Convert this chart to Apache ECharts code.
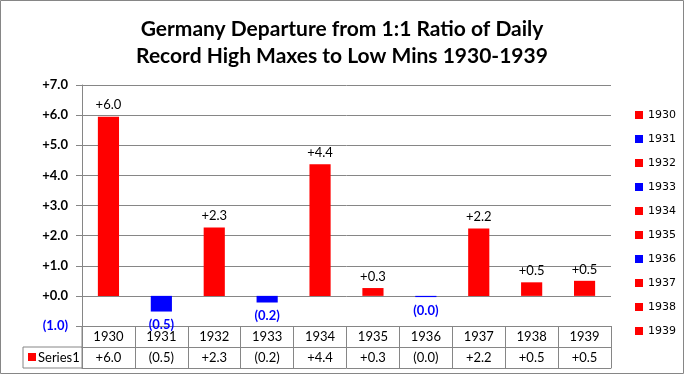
<!DOCTYPE html>
<html>
<head>
<meta charset="utf-8">
<script src="https://cdn.jsdelivr.net/npm/echarts@6/dist/echarts.min.js"></script>
<style>
  html, body { margin: 0; padding: 0; background: #fff; }
  #chart { width: 684px; height: 375px; }
</style>
</head>
<body>
<div id="chart"></div>
<script>
var years = ['1930', '1931', '1932', '1933', '1934', '1935', '1936', '1937', '1938', '1939'];
var values = [5.95, -0.52, 2.27, -0.22, 4.37, 0.26, -0.04, 2.24, 0.45, 0.5];
var valueLabels = ['+6.0', '(0.5)', '+2.3', '(0.2)', '+4.4', '+0.3', '(0.0)', '+2.2', '+0.5', '+0.5'];
var yTicks = { min: -1, max: 7, interval: 1 };

var RED = '#ff0000', BLUE = '#0000ff', LINE = '#868686';
var FONT = 'Lato';

var chart = echarts.init(document.getElementById('chart'));

// one series per year so the legend lists every year, stacked into one slot
var series = years.map(function(y, i) {
  var data = years.map(function(_, j) { return j === i ? values[i] : '-'; });
  var neg = values[i] < 0;
  return {
    name: y,
    type: 'bar',
    stack: 'all',
    barWidth: '40%',
    itemStyle: { color: neg ? BLUE : RED },
    label: {
      show: true,
      position: neg ? 'bottom' : 'top',
      distance: neg ? 7 : 5,
      formatter: function() { return valueLabels[i]; },
      color: neg ? BLUE : '#000',
      fontFamily: FONT,
      fontSize: 13,
      fontWeight: neg ? 'bold' : 'normal'
    },
    data: data
  };
});

var option = {
  animation: false,
  title: {
    text: 'Germany Departure from 1:1 Ratio of Daily\nRecord High Maxes to Low Mins 1930-1939',
    left: 'center',
    top: 11,
    textStyle: { fontFamily: FONT, fontSize: 21, fontWeight: 'bold', lineHeight: 27, color: '#000' }
  },
  legend: {
    orient: 'vertical',
    left: 630,
    top: 104,
    itemWidth: 8,
    itemHeight: 8,
    itemGap: 12,
    icon: 'rect',
    textStyle: { fontFamily: 'DejaVu Sans', fontSize: 11, color: '#000', lineHeight: 12 },
    data: years
  },
  grid: { left: 82, right: 73, top: 85, bottom: 49 },
  xAxis: [
    {
      type: 'category',
      data: years,
      position: 'bottom',
      axisLine: { onZero: false, lineStyle: { color: LINE } },
      axisTick: { show: true, length: 42, lineStyle: { color: LINE } },
      axisLabel: { margin: 4, fontFamily: FONT, fontSize: 13, color: '#000' }
    },
    {
      type: 'category',
      data: valueLabels,
      position: 'bottom',
      offset: 21,
      axisLine: { onZero: false, lineStyle: { color: LINE } },
      axisTick: { show: false },
      axisLabel: { margin: 4, fontFamily: FONT, fontSize: 13, color: '#000' }
    },
    {
      type: 'category',
      data: years,
      position: 'bottom',
      offset: 42,
      axisLine: { onZero: false, lineStyle: { color: LINE } },
      axisTick: { show: false },
      axisLabel: { show: false }
    }
  ],
  yAxis: {
    type: 'value',
    min: yTicks.min,
    max: yTicks.max,
    interval: yTicks.interval,
    axisLine: { show: true, lineStyle: { color: LINE } },
    axisTick: { show: true, length: 6, lineStyle: { color: LINE } },
    splitLine: { show: true, lineStyle: { color: LINE, width: 1 } },
    axisLabel: {
      margin: 14,
      fontFamily: FONT,
      fontSize: 13,
      fontWeight: 'bold',
      color: function(v) { return v < 0 ? BLUE : '#000'; },
      formatter: function(v) {
        if (v < 0) return '(' + (-v).toFixed(1) + ')';
        return '+' + v.toFixed(1);
      }
    }
  },
  graphic: [
    { type: 'rect', shape: { x: 0.5, y: 0.5, width: 683, height: 373 }, style: { fill: 'none', stroke: LINE } },
    { type: 'line', shape: { x1: 82, y1: 326, x2: 82, y2: 368 }, style: { stroke: LINE } },
    { type: 'line', shape: { x1: 23, y1: 347, x2: 82, y2: 347 }, style: { stroke: LINE } },
    { type: 'line', shape: { x1: 23, y1: 368, x2: 82, y2: 368 }, style: { stroke: LINE } },
    { type: 'line', shape: { x1: 23, y1: 347, x2: 23, y2: 368 }, style: { stroke: LINE } },
    { type: 'rect', shape: { x: 28, y: 353, width: 8, height: 8 }, style: { fill: RED } },
    { type: 'text', x: 38, y: 357.5, style: { text: 'Series1', fontFamily: FONT, fontSize: 13, fill: '#000', verticalAlign: 'middle' } }
  ],
  series: series
};

chart.setOption(option);
</script>
</body>
</html>
